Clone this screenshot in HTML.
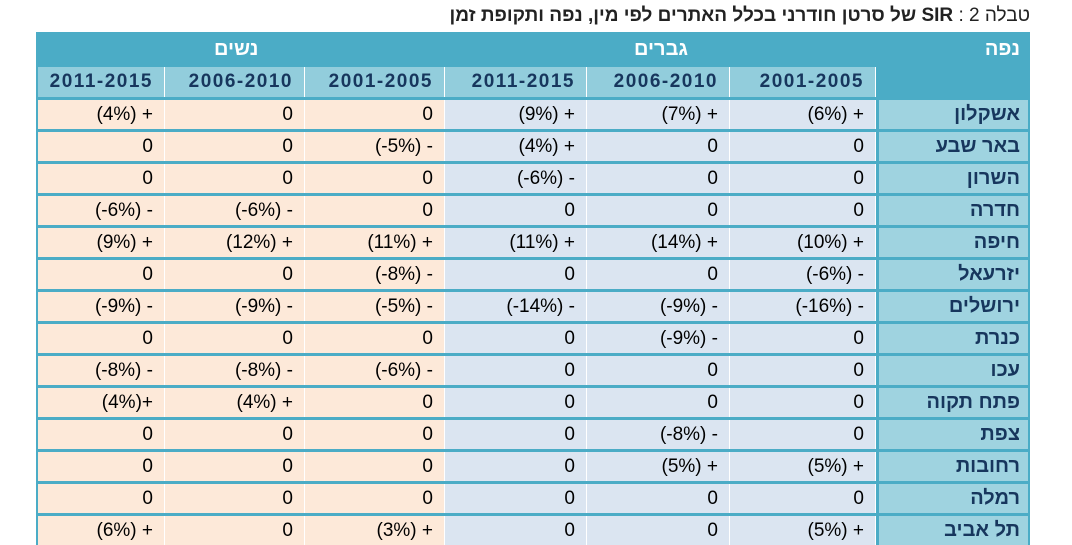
<!DOCTYPE html>
<html><head><meta charset="utf-8"><style>
body{margin:0;width:1072px;height:542px;background:#fff;overflow:hidden;position:relative;font-family:"Liberation Sans","Noto Sans CJK SC",sans-serif}
.title{position:absolute;right:42px;top:5px;font-size:19px;color:#222;direction:rtl;white-space:nowrap}
.title b{font-weight:bold}
.t{position:absolute;left:36px;top:32px;width:994px;}
.h1{height:35px;background:#4bacc6;position:relative;color:#fff;font-weight:bold;font-size:20px}
.h1 span{position:absolute;top:6px}
.row{display:flex;height:32px;box-sizing:border-box;border-top:3px solid #4bacc6;border-left:2px solid #4bacc6;border-right:2px solid #4bacc6}
.h2{display:flex;height:30px;border-left:2px solid #4bacc6;border-right:2px solid #4bacc6;background:#4bacc6}
.c{box-sizing:border-box;text-align:right;padding-right:11px;font-size:19px;line-height:29px;white-space:nowrap;border-right:1px solid #fff;direction:ltr;unicode-bidi:bidi-override}
.w{background:#fde9d9}.m{background:#dbe5f1}
.s{background:#92cddc;font-weight:bold;color:#17365d;line-height:30px;font-size:19px;letter-spacing:1.5px}
.n{background:#9fd3e0;font-weight:bold;color:#17365d;font-size:20px;direction:rtl;unicode-bidi:normal;text-align:right;padding-right:8px;border-left:3px solid #4bacc6;border-right:none}
.a{width:127px}.b{width:140px}.d{width:140px}.e{width:142px}.f{width:143px}.g{width:146px}.k{width:152px}
</style></head><body>
<div class="title">טבלה 2 : <b>SIR של סרטן חודרני בכלל האתרים לפי מין, נפה ותקופת זמן</b></div>
<div class="t">
<div class="h1"><span style="left:178px">נשים</span><span style="left:598px">גברים</span><span style="right:10px">נפה</span></div>
<div class="h2"><div class="c s a">2011-2015</div><div class="c s b">2006-2010</div><div class="c s d">2001-2005</div><div class="c s e">2011-2015</div><div class="c s f">2006-2010</div><div class="c s g">2001-2005</div><div class="c k" style="border:none"></div></div>
<div class="row"><div class="c w a">(4%) +</div><div class="c w b">0</div><div class="c w d">0</div><div class="c m e">(9%) +</div><div class="c m f">(7%) +</div><div class="c m g">(6%) +</div><div class="c n k">אשקלון</div></div>
<div class="row"><div class="c w a">0</div><div class="c w b">0</div><div class="c w d">(-5%) -</div><div class="c m e">(4%) +</div><div class="c m f">0</div><div class="c m g">0</div><div class="c n k">באר שבע</div></div>
<div class="row"><div class="c w a">0</div><div class="c w b">0</div><div class="c w d">0</div><div class="c m e">(-6%) -</div><div class="c m f">0</div><div class="c m g">0</div><div class="c n k">השרון</div></div>
<div class="row"><div class="c w a">(-6%) -</div><div class="c w b">(-6%) -</div><div class="c w d">0</div><div class="c m e">0</div><div class="c m f">0</div><div class="c m g">0</div><div class="c n k">חדרה</div></div>
<div class="row"><div class="c w a">(9%) +</div><div class="c w b">(12%) +</div><div class="c w d">(11%) +</div><div class="c m e">(11%) +</div><div class="c m f">(14%) +</div><div class="c m g">(10%) +</div><div class="c n k">חיפה</div></div>
<div class="row"><div class="c w a">0</div><div class="c w b">0</div><div class="c w d">(-8%) -</div><div class="c m e">0</div><div class="c m f">0</div><div class="c m g">(-6%) -</div><div class="c n k">יזרעאל</div></div>
<div class="row"><div class="c w a">(-9%) -</div><div class="c w b">(-9%) -</div><div class="c w d">(-5%) -</div><div class="c m e">(-14%) -</div><div class="c m f">(-9%) -</div><div class="c m g">(-16%) -</div><div class="c n k">ירושלים</div></div>
<div class="row"><div class="c w a">0</div><div class="c w b">0</div><div class="c w d">0</div><div class="c m e">0</div><div class="c m f">(-9%) -</div><div class="c m g">0</div><div class="c n k">כנרת</div></div>
<div class="row"><div class="c w a">(-8%) -</div><div class="c w b">(-8%) -</div><div class="c w d">(-6%) -</div><div class="c m e">0</div><div class="c m f">0</div><div class="c m g">0</div><div class="c n k">עכו</div></div>
<div class="row"><div class="c w a">(4%)+</div><div class="c w b">(4%) +</div><div class="c w d">0</div><div class="c m e">0</div><div class="c m f">0</div><div class="c m g">0</div><div class="c n k">פתח תקוה</div></div>
<div class="row"><div class="c w a">0</div><div class="c w b">0</div><div class="c w d">0</div><div class="c m e">0</div><div class="c m f">(-8%) -</div><div class="c m g">0</div><div class="c n k">צפת</div></div>
<div class="row"><div class="c w a">0</div><div class="c w b">0</div><div class="c w d">0</div><div class="c m e">0</div><div class="c m f">(5%) +</div><div class="c m g">(5%) +</div><div class="c n k">רחובות</div></div>
<div class="row"><div class="c w a">0</div><div class="c w b">0</div><div class="c w d">0</div><div class="c m e">0</div><div class="c m f">0</div><div class="c m g">0</div><div class="c n k">רמלה</div></div>
<div class="row"><div class="c w a">(6%) +</div><div class="c w b">0</div><div class="c w d">(3%) +</div><div class="c m e">0</div><div class="c m f">0</div><div class="c m g">(5%) +</div><div class="c n k">תל אביב</div></div>
</div>
</body></html>
